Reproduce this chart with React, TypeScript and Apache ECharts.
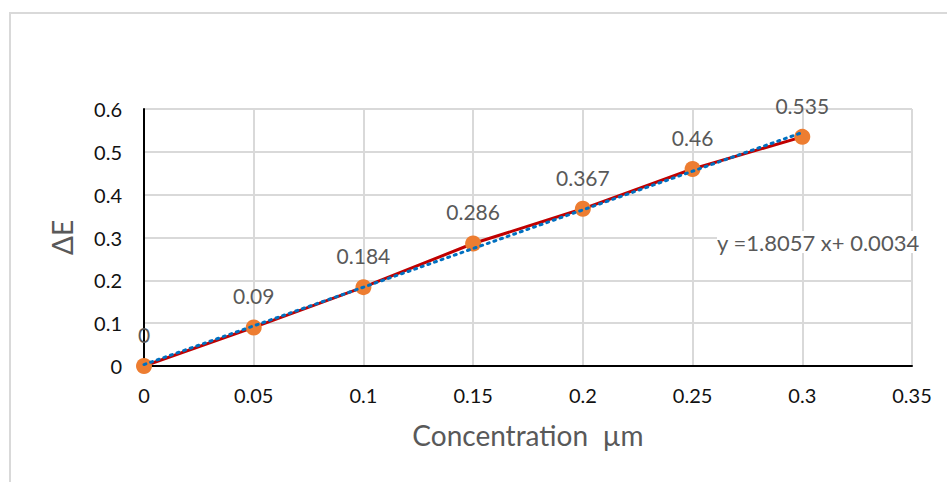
import React, { useEffect, useRef } from "react";
import * as echarts from "echarts";

const concentrations = [0, 0.05, 0.1, 0.15, 0.2, 0.25, 0.3];
const deltaE = [0, 0.09, 0.184, 0.286, 0.367, 0.46, 0.535];
const trendX = [0, 0.3];
const trendY = [0.0034, 0.5451];
const equationText = "y =1.8057 x+ 0.0034";
const xTitle = "Concentration  µm";
const yTitle = "ΔE";

const FONT = "Lato, 'Open Sans', sans-serif";

export default function App() {
  const ref = useRef<HTMLDivElement>(null);
  useEffect(() => {
    if (!ref.current) return;
    const chart = echarts.init(ref.current, null, { renderer: "svg" });
    chart.setOption({
      animation: false,
      backgroundColor: "#ffffff",
      textStyle: { fontFamily: FONT },
      grid: { left: 144, right: 35, top: 109, bottom: 116, containLabel: false },
      xAxis: {
        type: "value",
        min: 0,
        max: 0.35,
        interval: 0.05,
        name: xTitle,
        nameLocation: "middle",
        nameGap: 55,
        nameTextStyle: { fontSize: 28, color: "#595959", fontFamily: FONT },
        axisLine: { show: true, onZero: false, lineStyle: { color: "#000000", width: 2 } },
        axisTick: { show: false },
        axisLabel: { fontSize: 20, color: "#111111", margin: 19, fontFamily: FONT },
        splitLine: { show: true, lineStyle: { color: "#d9d9d9", width: 2 } },
      },
      yAxis: {
        type: "value",
        min: 0,
        max: 0.6,
        interval: 0.1,
        name: yTitle,
        nameLocation: "middle",
        nameGap: 68,
        nameRotate: 90,
        nameTextStyle: { fontSize: 28, color: "#595959", fontFamily: FONT },
        axisLine: { show: true, lineStyle: { color: "#000000", width: 2 } },
        axisTick: { show: false },
        axisLabel: { fontSize: 20, color: "#111111", margin: 22, fontFamily: FONT },
        splitLine: { show: true, lineStyle: { color: "#d9d9d9", width: 2 } },
      },
      series: [
        {
          type: "line",
          data: concentrations.map((c, i) => [c, deltaE[i]]),
          lineStyle: { color: "#C00000", width: 3 },
          itemStyle: { color: "#ED7D31" },
          symbol: "circle",
          symbolSize: 16,
          z: 2,
          label: {
            show: true,
            position: "top",
            distance: 13,
            fontSize: 21,
            color: "#595959",
            fontFamily: FONT,
            formatter: (p: any) => String(p.value[1]),
          },
        },
        {
          type: "line",
          data: trendX.map((c, i) => [c, trendY[i]]),
          symbol: "none",
          lineStyle: { color: "#0070C0", width: 3, type: [2, 5], cap: "round" },
          z: 3,
        },
      ],
      graphic: [
        {
          type: "rect",
          shape: { x: 10, y: 13, width: 960, height: 500 },
          style: { fill: "none", stroke: "#d9d9d9", lineWidth: 2 },
          silent: true,
          z: -10,
        },
        {
          type: "text",
          left: 717,
          top: 231,
          z: 10,
          style: {
            text: equationText,
            fontSize: 22,
            fill: "#595959",
            fontFamily: FONT,
            backgroundColor: "#ffffff",
          },
        },
      ],
    });
    return () => chart.dispose();
  }, []);
  return (
    <div
      ref={ref}
      style={{ position: "fixed", left: 0, top: 0, width: 947, height: 482 }}
    />
  );
}
